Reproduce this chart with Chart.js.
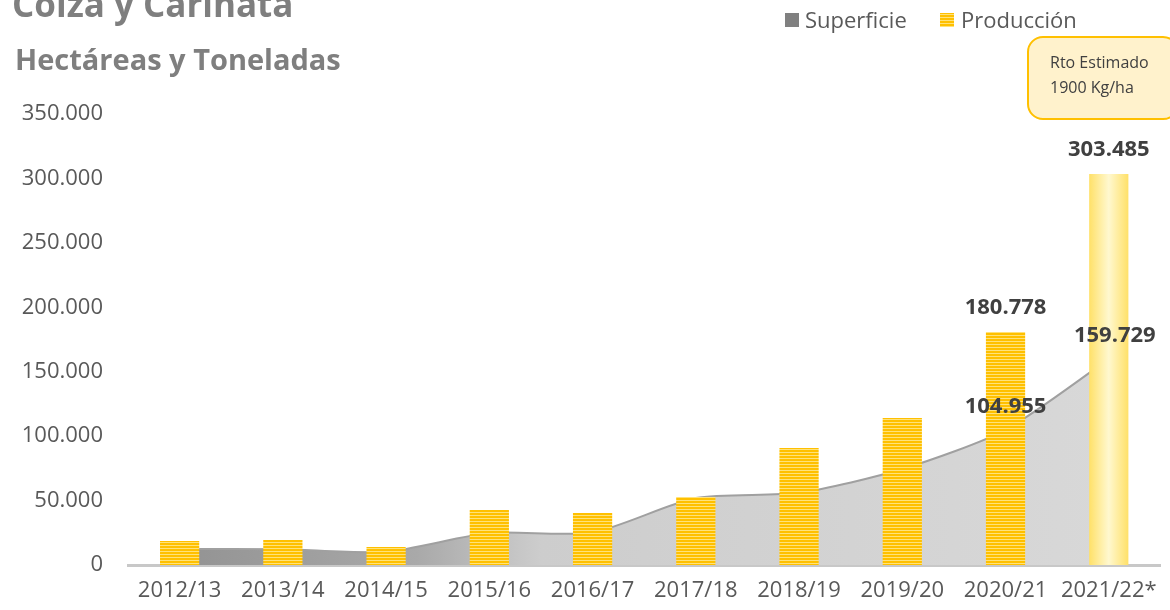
<!DOCTYPE html>
<html>
<head>
<meta charset="utf-8">
<script src="https://cdn.jsdelivr.net/npm/chart.js@4.4.1/dist/chart.umd.min.js"></script>
<style>
  html, body { margin: 0; padding: 0; background: #fff; }
  #wrap { width: 1170px; height: 610px; position: relative; }
</style>
</head>
<body>
<div id="wrap"><canvas id="colzaChart" width="1170" height="610"></canvas></div>
<script>
const campaigns = ["2012/13", "2013/14", "2014/15", "2015/16", "2016/17", "2017/18", "2018/19", "2019/20", "2020/21", "2021/22*"];
const superficie = [12400, 12200, 10300, 24800, 25300, 52000, 56000, 74500, 104955, 159729];
const produccion = [18600, 19400, 14000, 42700, 40400, 52800, 90800, 114100, 180778, 303485];
const yTicks = [0, 50000, 100000, 150000, 200000, 250000, 300000, 350000];

// values that get a printed label: [dataset, index]
const labelled = [["prod", 8], ["prod", 9], ["sup", 8], ["sup", 9]];

const FONT = "'Open Sans', 'Noto Sans', sans-serif";
const fmt = (v) => v.toString().replace(/\B(?=(\d{3})+(?!\d))/g, ".");

document.addEventListener("DOMContentLoaded", () => {
  const ctx = document.getElementById("colzaChart").getContext("2d");

  // striped yellow fill for the production bars
  const stripe = document.createElement("canvas");
  stripe.width = 1;
  stripe.height = 3;
  const sctx = stripe.getContext("2d");
  sctx.fillStyle = "#FFC000"; sctx.fillRect(0, 0, 1, 2);
  sctx.fillStyle = "#FFE27A"; sctx.fillRect(0, 2, 1, 1);
  const stripePattern = ctx.createPattern(stripe, "repeat");

  const barFill = (c) => {
    if (c.dataIndex !== produccion.length - 1) return stripePattern;
    const chart = c.chart;
    if (!chart.chartArea || !chart.scales.x) return "#FFEF9E";
    const cx = chart.scales.x.getPixelForValue(c.dataIndex);
    const g = chart.ctx.createLinearGradient(cx - 20, 0, cx + 20, 0);
    g.addColorStop(0, "#FFE066");
    g.addColorStop(0.5, "#FFF8CF");
    g.addColorStop(1, "#FFE066");
    return g;
  };

  const areaFill = (c) => {
    const area = c.chart.chartArea;
    if (!area) return "#d0d0d0";
    const g = c.chart.ctx.createLinearGradient(area.left, 0, area.right, 0);
    g.addColorStop(0, "#8e8e8e");
    g.addColorStop(0.28, "#a9a9a9");
    g.addColorStop(0.4, "#cdcdcd");
    g.addColorStop(1, "#d9d9d9");
    return g;
  };

  const decorations = {
    id: "decorations",
    afterDraw(chart) {
      const c = chart.ctx;
      c.save();
      // titles
      c.fillStyle = "#7f7f7f";
      c.textAlign = "left";
      c.textBaseline = "alphabetic";
      c.font = "bold 35px " + FONT;
      c.fillText("Colza y Carinata", 12, 17);
      c.font = "bold 29px " + FONT;
      c.fillText("Hectáreas y Toneladas", 15, 70);

      // legend
      c.font = "22px " + FONT;
      c.fillStyle = "#808080";
      c.fillRect(785, 13, 14, 14);
      c.fillStyle = "#595959";
      c.fillText("Superficie", 805, 28);
      c.fillStyle = stripePattern;
      c.fillRect(940, 13, 14, 14);
      c.fillStyle = "#595959";
      c.fillText("Producción", 961, 28);

      // callout
      c.beginPath();
      c.roundRect(1028, 37, 150, 82, 15);
      c.fillStyle = "#FFF2CC";
      c.fill();
      c.lineWidth = 2;
      c.strokeStyle = "#FFC000";
      c.stroke();
      c.fillStyle = "#404040";
      c.font = "16px " + FONT;
      c.fillText("Rto Estimado", 1050, 68);
      c.fillText("1900 Kg/ha", 1050, 93);

      // value labels
      c.font = "bold 22px " + FONT;
      c.fillStyle = "#404040";
      c.textAlign = "center";
      const supMeta = chart.getDatasetMeta(0);
      const prodMeta = chart.getDatasetMeta(1);
      labelled.forEach(([set, i]) => {
        if (set === "prod") {
          const el = prodMeta.data[i];
          c.fillText(fmt(produccion[i]), el.x, el.y - 18);
        } else {
          const el = supMeta.data[i];
          const dx = i === superficie.length - 1 ? 6 : 0;
          c.fillText(fmt(superficie[i]), el.x + dx, el.y - 17);
        }
      });
      c.restore();
    },
  };

  new Chart(ctx, {
    type: "bar",
    data: {
      labels: campaigns,
      datasets: [
        {
          type: "line",
          label: "Superficie",
          data: superficie,
          fill: "origin",
          backgroundColor: areaFill,
          borderColor: "#a0a0a0",
          borderWidth: 2,
          pointRadius: 0,
          tension: 0.25,
          order: 2,
        },
        {
          type: "bar",
          label: "Producción",
          data: produccion,
          backgroundColor: barFill,
          borderWidth: 0,
          barPercentage: 0.38,
          categoryPercentage: 1,
          order: 1,
        },
      ],
    },
    options: {
      responsive: false,
      animation: false,
      layout: { padding: { top: 114, left: 0, right: 8, bottom: 0 } },
      plugins: {
        legend: { display: false },
        tooltip: { enabled: false },
      },
      scales: {
        x: {
          offset: true,
          grid: { display: false, drawTicks: false },
          border: { display: true, color: "#c8c8c8", width: 3 },
          ticks: {
            color: "#595959",
            font: { family: FONT, size: 22 },
            padding: 13,
            maxRotation: 0,
            autoSkip: false,
          },
          afterFit: (scale) => { scale.height = 45; },
        },
        y: {
          min: 0,
          max: 350000,
          grid: { display: false, drawTicks: false },
          border: { display: false },
          afterBuildTicks: (scale) => { scale.ticks = yTicks.map((v) => ({ value: v })); },
          ticks: {
            color: "#595959",
            font: { family: FONT, size: 22 },
            padding: 25,
            callback: (v) => fmt(v),
          },
          afterFit: (scale) => { scale.width = 128; },
        },
      },
    },
    plugins: [decorations],
  });
});
</script>
</body>
</html>
